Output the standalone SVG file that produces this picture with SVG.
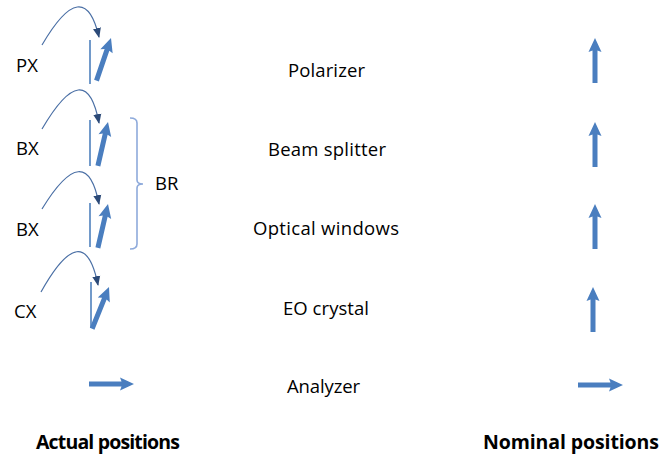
<svg xmlns="http://www.w3.org/2000/svg" xmlns:xlink="http://www.w3.org/1999/xlink" width="661" height="457" viewBox="0 0 661 457">
<style>
text{font-family:"Open Sans","Liberation Sans",sans-serif;fill:#000}
.lbl{font-size:18.5px}
.mid{font-size:18.5px;text-anchor:middle}
.bold{font-size:19.5px;font-weight:bold}
.curve{fill:none;stroke:#4A6FA5;stroke-width:1.2}
.thin{stroke:#4F81BD;stroke-width:1.6;fill:none}
.brace{stroke:#8EAADB;stroke-width:1.6;fill:none}
.thick{fill:#4A7EBF}
</style>
<defs>
<marker id="ah" markerUnits="userSpaceOnUse" markerWidth="10" markerHeight="10" viewBox="0 0 10 10" refX="9" refY="5" orient="auto">
<path d="M0,1 L10,5 L0,9 Z" fill="#2C4A78"/>
</marker>
<path id="arr" d="M0,0 L6.5,14 L2.5,12.5 L2.5,45 L-2.5,45 L-2.5,12.5 L-6.5,14 Z"/>
</defs>
<rect width="661" height="457" fill="#fff"/>
<g id="connectors">
<path class="curve" d="M42,45 Q84,-27 99,37" marker-end="url(#ah)"/>
<path class="curve" d="M42,129 Q86,54 99,123" marker-end="url(#ah)"/>
<path class="curve" d="M42,209 Q86,137 99,204" marker-end="url(#ah)"/>
<path class="curve" d="M41,292 Q84,215 98,285" marker-end="url(#ah)"/>
</g>
<g id="polarizer">
<text class="lbl" x="16" y="72">PX</text>
<line class="thin" x1="90" y1="40" x2="90" y2="84"/>
<use href="#arr" class="thick" transform="translate(111,38) rotate(18.8)"/>
<text class="mid" x="326.5" y="77" textLength="77">Polarizer</text>
<use href="#arr" class="thick" transform="translate(595,38)"/>
</g>
<g id="beam-splitter">
<text class="lbl" x="16" y="155">BX</text>
<line class="thin" x1="90" y1="120" x2="90" y2="166"/>
<use href="#arr" class="thick" transform="translate(108,122) rotate(13)"/>
<text class="mid" x="327" y="156" textLength="118">Beam splitter</text>
<use href="#arr" class="thick" transform="translate(595,122)"/>
</g>
<g id="optical-windows">
<text class="lbl" x="16" y="236">BX</text>
<line class="thin" x1="90" y1="203" x2="90" y2="247"/>
<use href="#arr" class="thick" transform="translate(108,204) rotate(13)"/>
<text class="mid" x="326" y="235" textLength="146">Optical windows</text>
<use href="#arr" class="thick" transform="translate(595,204)"/>
</g>
<g id="br">
<path class="brace" d="M130,118 Q137,118 137,123 L137,180 Q137,184 143,184 Q137,184 137,188 L137,244 Q137,249 130,249"/>
<text class="lbl" x="155" y="190">BR</text>
</g>
<g id="eo-crystal">
<text class="lbl" x="14" y="318">CX</text>
<line class="thin" x1="91" y1="282" x2="91" y2="328"/>
<use href="#arr" class="thick" transform="translate(109,287) rotate(22)"/>
<text class="mid" x="326" y="315" textLength="86">EO crystal</text>
<use href="#arr" class="thick" transform="translate(593,287)"/>
</g>
<g id="analyzer">
<use href="#arr" class="thick" transform="translate(134,384) rotate(90)"/>
<text class="mid" x="323.5" y="393" textLength="73">Analyzer</text>
<use href="#arr" class="thick" transform="translate(623,385) rotate(90)"/>
</g>
<g id="headers">
<text class="bold" x="36" y="449" textLength="144">Actual positions</text>
<text class="bold" x="483" y="449" textLength="176">Nominal positions</text>
</g>
</svg>
